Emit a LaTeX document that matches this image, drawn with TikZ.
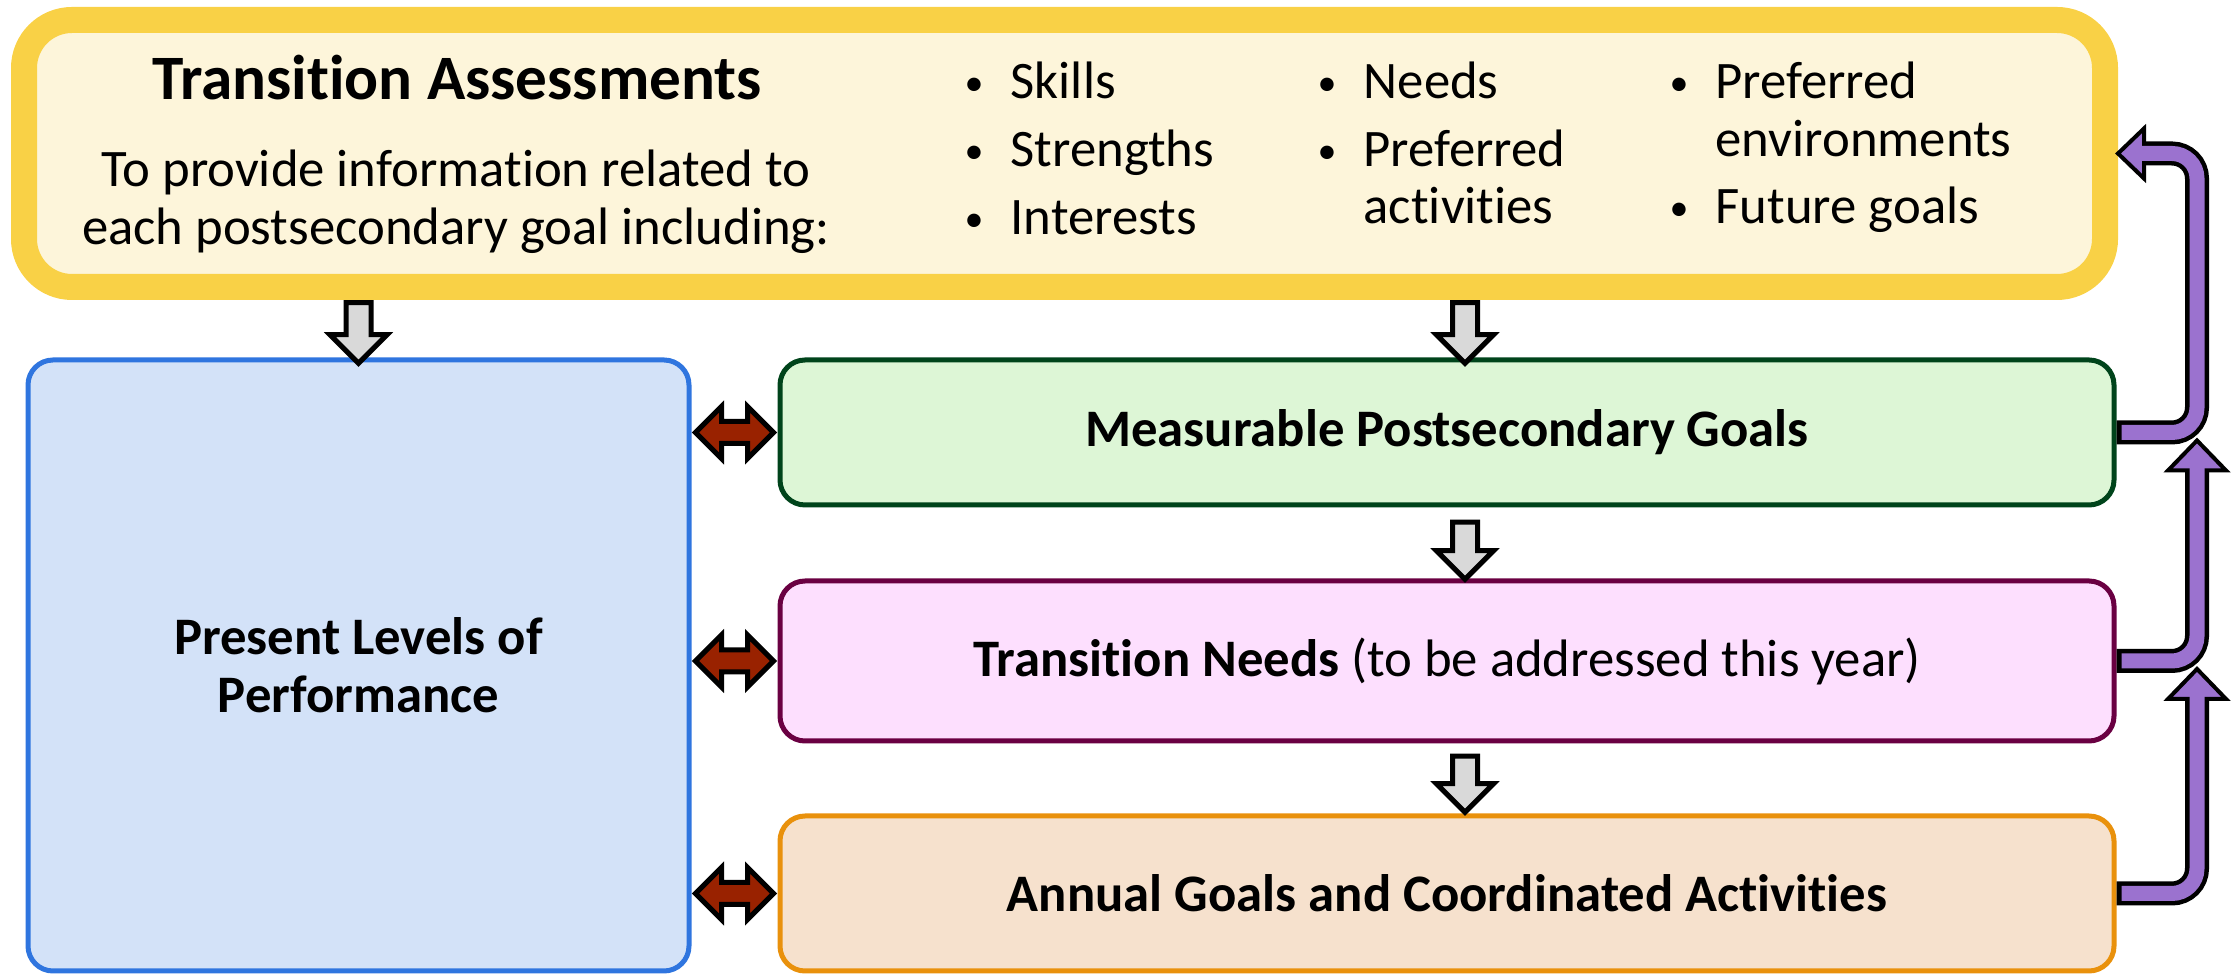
\documentclass[tikz,border=0pt]{standalone}
\usepackage{fontspec}
\setmainfont{Carlito}[Ligatures={NoCommon}]
\usepackage{tikz}
\usetikzlibrary{shapes.arrows, calc}
\definecolor{yelbord}{RGB}{249,209,70}
\definecolor{cream}{RGB}{253,245,218}
\definecolor{blueb}{RGB}{47,117,223}
\definecolor{bluef}{RGB}{211,226,248}
\definecolor{greenb}{RGB}{0,68,27}
\definecolor{greenf}{RGB}{221,246,214}
\definecolor{pinkb}{RGB}{106,0,66}
\definecolor{pinkf}{RGB}{253,223,254}
\definecolor{orangeb}{RGB}{233,145,12}
\definecolor{orangef}{RGB}{246,225,205}
\definecolor{arrgray}{RGB}{217,217,217}
\definecolor{darkred}{RGB}{153,34,0}
\definecolor{purp}{RGB}{155,114,207}

\newcommand{\bul}{\makebox[0.46cm][l]{\raisebox{0.06em}{\scalebox{0.72}{\textbullet}}}}
% block arrow shape stretched from one point to another
\newcommand{\blockarrow}[4]{\path let \p1=($(#3)-(#2)$), \n1={veclen(\x1,\y1)} in
  (#2) -- node[#1, sloped, allow upside down, minimum height=\n1-#4] {} (#3);}

\begin{document}
\begin{tikzpicture}[font=\fontsize{15pt}{16.5pt}\selectfont,
  box/.style={draw, rectangle, rounded corners=0.25cm, line width=0.05cm, align=center, font=\fontsize{15pt}{16.5pt}\selectfont\bfseries},
  item/.style={anchor=base west, inner sep=0pt},
  line/.style={anchor=base, inner sep=0pt},
  grayarrow/.style={single arrow, draw=black, line width=0.05cm, fill=arrgray, inner xsep=0pt, inner ysep=0.1cm, minimum width=0pt, single arrow head extend=0.16cm, outer sep=0pt},
  redarrow/.style={double arrow, draw=black, line width=0.05cm, fill=darkred, inner xsep=0pt, inner ysep=0.085cm, minimum width=0pt, double arrow head extend=0.15cm, outer sep=0pt},
  pback/.style={draw=black, line width=0.24cm, rounded corners=0.25cm},
  pfront/.style={draw=purp, line width=0.15cm, rounded corners=0.25cm},
  phead/.style={draw=black, fill=purp, line width=0.04cm, line join=miter}]
\useasboundingbox (0,0) rectangle (22.31,-9.74);

% top box
\node[draw=yelbord, fill=cream, line width=0.26cm, rounded corners=0.48cm, minimum width=20.81cm, minimum height=2.67cm] (ta) at (10.645,-1.535) {};
\node[line, font=\fontsize{18pt}{21pt}\selectfont\bfseries] (title) at (4.57,-1.00) {Transition Assessments};
\node[line] (desc1) at (4.56,-1.87) {To provide information related to};
\node[line] (desc2) at (4.56,-2.45) {each postsecondary goal including:};
\node[item] (skills) at (9.64,-0.99) {\bul Skills};
\node[item] (strengths) at (9.64,-1.67) {\bul Strengths};
\node[item] (interests) at (9.64,-2.35) {\bul Interests};
\node[item] (needs) at (13.17,-0.99) {\bul Needs};
\node[item] (prefact) at (13.17,-1.67) {\bul Preferred};
\node[item] (activities) at (13.63,-2.24) {activities};
\node[item] (prefenv) at (16.69,-0.99) {\bul Preferred};
\node[item] (environments) at (17.15,-1.57) {environments};
\node[item] (future) at (16.69,-2.24) {\bul Future goals};

% lower boxes
\node[box, draw=blueb, fill=bluef, minimum width=6.61cm, minimum height=6.11cm] (pl) at (3.585,-6.655) {Present Levels of\\Performance};
\node[box, draw=greenb, fill=greenf, minimum width=13.34cm, minimum height=1.45cm] (mpg) at (14.47,-4.325) {Measurable Postsecondary Goals};
\node[box, draw=pinkb, fill=pinkf, minimum width=13.34cm, minimum height=1.60cm] (tn) at (14.47,-6.61) {Transition Needs \mdseries(to be addressed this year)};
\node[box, draw=orangeb, fill=orangef, minimum width=13.34cm, minimum height=1.55cm] (agc) at (14.47,-8.935) {Annual Goals and Coordinated Activities};

% gray down arrows
\coordinate (g1) at ([xshift=0.18cm]mpg.north);
\coordinate (s1) at ([yshift=0.04cm]ta.south -| pl.north);
\coordinate (s2) at ([yshift=0.04cm]ta.south -| g1);
\blockarrow{grayarrow}{s1}{pl.north}{0.01cm}
\blockarrow{grayarrow}{s2}{g1}{0.01cm}
\blockarrow{grayarrow}{[xshift=0.18cm,yshift=-0.08cm]mpg.south}{[xshift=0.18cm,yshift=0.05cm]tn.north}{0.01cm}
\blockarrow{grayarrow}{[xshift=0.18cm,yshift=-0.06cm]tn.south}{[xshift=0.18cm,yshift=0.07cm]agc.north}{0.01cm}

% red double arrows
\blockarrow{redarrow}{pl.east |- mpg.west}{mpg.west}{0.08cm}
\blockarrow{redarrow}{pl.east |- tn.west}{tn.west}{0.08cm}
\blockarrow{redarrow}{pl.east |- agc.west}{agc.west}{0.08cm}

% purple feedback arrows
\coordinate (rail) at (21.97,0);
\coordinate (tipc) at ($(rail |- tn.east)+(0,-0.08)$);
\coordinate (tipb) at ($(rail |- mpg.east)+(0,-0.08)$);
\draw[pback] (agc.east) -- (rail |- agc.east) -- ([yshift=-0.30cm]tipc);
\draw[phead] (tipc) -- ++(-0.29,-0.30) -- ++(0.58,0) -- cycle;
\draw[pfront] ([xshift=0.05cm]agc.east) -- (rail |- agc.east) -- ([yshift=-0.27cm]tipc);
\draw[pback] (tn.east) -- (rail |- tn.east) -- ([yshift=-0.30cm]tipb);
\draw[phead] (tipb) -- ++(-0.29,-0.30) -- ++(0.58,0) -- cycle;
\draw[pfront] ([xshift=0.05cm]tn.east) -- (rail |- tn.east) -- ([yshift=-0.27cm]tipb);
\draw[pback] (mpg.east) -- (rail |- mpg.east) -- (rail |- ta.east) -- ([xshift=0.26cm]ta.east);
\draw[phead] (ta.east) -- ++(0.26,0.25) -- ++(0,-0.5) -- cycle;
\draw[pfront] ([xshift=0.05cm]mpg.east) -- (rail |- mpg.east) -- (rail |- ta.east) -- ([xshift=0.23cm]ta.east);
\end{tikzpicture}
\end{document}
